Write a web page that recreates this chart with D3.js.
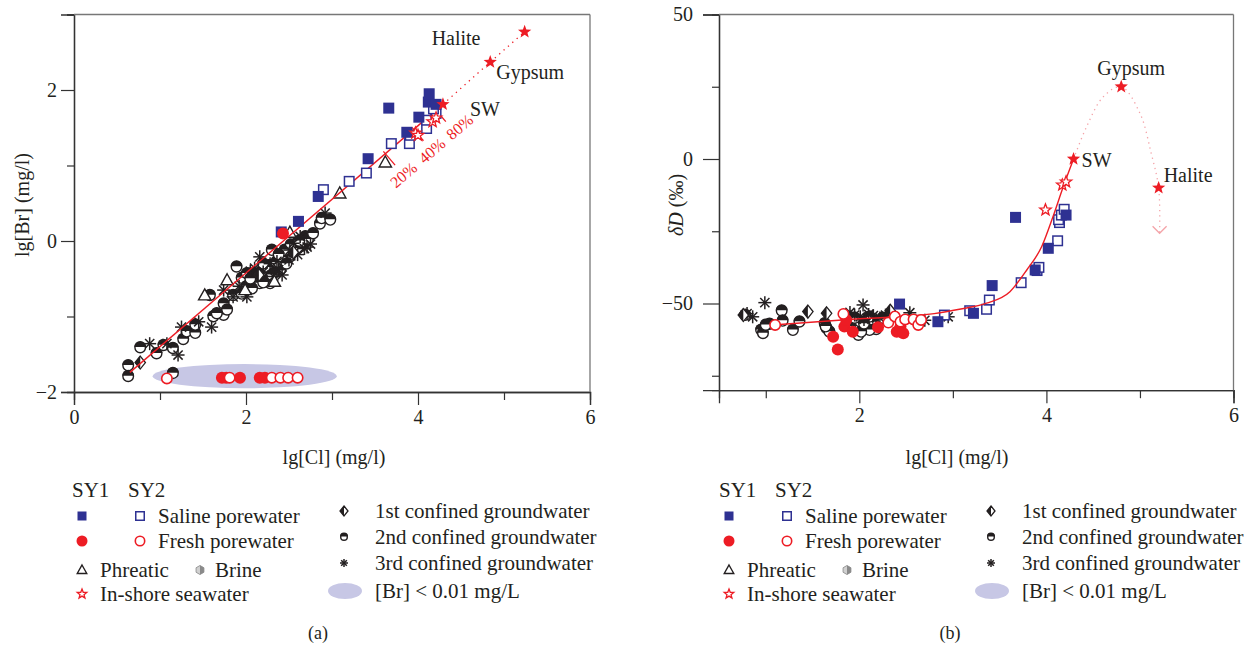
<!DOCTYPE html>
<html><head><meta charset="utf-8">
<script src="https://cdn.jsdelivr.net/npm/d3@7"></script>
<style>
body{margin:0;background:#fff}
svg{display:block}
text{font-family:"Liberation Serif","DejaVu Serif",serif;fill:#231f20}
</style></head>
<body><svg id="c" width="1256" height="645"></svg>
<script>
// ---------------- DATA: panel (a)  lg[Cl] vs lg[Br] ----------------
const xTicksA = [0, 2, 4, 6];
const xMinorA = [1, 3, 5];
const yTicksA = [-2, 0, 2];
const yMinorA = [-1, 1, 3];
const salineSY1A = [[2.41,0.12],[2.61,0.26],[2.84,0.59],[3.42,1.09],[3.66,1.76],[3.87,1.44],[4.01,1.64],[4.12,1.84],[4.13,1.95],[4.21,1.81]];
const salineSY2A = [[2.90,0.68],[3.20,0.79],[3.40,0.90],[3.69,1.29],[3.90,1.29],[3.91,1.40],[4.10,1.49],[4.10,1.60],[4.21,1.69],[4.18,1.75]];
const freshSY1A = [[2.43,0.10],[1.72,-1.81],[1.77,-1.81],[1.93,-1.81],[2.16,-1.81],[2.22,-1.81]];
const freshSY2A = [[1.08,-1.82],[1.81,-1.81],[2.30,-1.81],[2.40,-1.81],[2.49,-1.81],[2.60,-1.81]];
const phreaticA = [[1.52,-0.72],[1.78,-0.52],[1.99,-0.65],[2.33,-0.54],[2.51,0.11],[3.09,0.63],[3.62,1.04]];
const confined1A = [[0.77,-1.61],[2.15,-0.45],[2.55,-0.15]];
const confined2A = [[0.63,-1.65],[0.63,-1.79],[0.77,-1.41],[0.96,-1.49],[1.04,-1.38],[1.15,-1.42],[1.15,-1.75],[1.27,-1.30],[1.31,-1.20],[1.41,-1.22],[1.41,-1.11],[1.58,-0.72],[1.62,-1.00],[1.74,-0.83],[1.74,-0.98],[1.78,-0.91],[1.89,-0.34],[1.95,-0.49],[2.01,-0.43],[2.01,-0.60],[2.16,-0.56],[2.24,-0.52],[2.28,-0.56],[2.30,-0.12],[2.40,-0.38],[2.51,-0.21],[2.86,0.23],[2.88,0.30],[2.98,0.28],[2.69,0.06],[2.28,-0.32],[2.07,-0.63],[1.85,-0.72],[1.66,-0.96],[2.10,-0.45],[2.18,-0.40],[2.25,-0.35],[2.35,-0.28],[2.42,-0.22],[2.47,-0.30],[2.55,-0.15],[2.60,-0.10],[2.65,-0.02],[2.72,0.02],[2.45,-0.12],[2.33,-0.42],[2.20,-0.55],[1.95,-0.70],[2.05,-0.50],[2.38,-0.18],[2.52,-0.05],[2.62,0.00],[2.78,0.10],[2.20,-0.30],[2.30,-0.45]];
const confined3A = [[0.88,-1.36],[1.08,-1.36],[1.21,-1.51],[1.25,-1.14],[1.45,-1.07],[1.60,-1.14],[1.74,-0.65],[1.85,-0.74],[2.01,-0.74],[2.10,-0.36],[2.20,-0.41],[2.36,-0.27],[2.51,-0.12],[2.55,-0.03],[2.63,0.06],[2.71,-0.08],[2.92,0.37],[2.16,-0.21],[2.32,-0.47],[2.28,-0.30],[2.38,-0.38],[2.50,-0.25],[2.60,-0.18],[2.68,-0.10],[2.75,-0.04],[2.42,-0.45],[1.92,-0.60],[2.05,-0.40]];
const inshoreA = [[3.97,1.43],[4.00,1.40],[4.17,1.58],[4.21,1.63]];
const endNamesA = ["SW", "Gypsum", "Halite"];
const endXA = [4.29, 4.84, 5.24];
const endYA = [1.81, 2.37, 2.77];
const mixLineA = [[0.65,-1.74],[4.29,1.81]];
const mixTickXA = [3.62, 3.95, 4.21];
const mixTickLabelsA = ["20%", "40%", "80%"];
const lowBrA = {cx: 1.985, cy: -1.79, rx: 1.07, ry: 0.16};

// ---------------- DATA: panel (b)  lg[Cl] vs δD ----------------
const xTicksB = [2, 4, 6];
const xMinorB = [1, 3, 5];
const yTicksB = [-50, 0, 50];
const yMinorB = [-75, -25, 25];
const salineSY1B = [[2.43,-50.2],[2.84,-56.3],[3.22,-53.4],[3.42,-43.8],[3.67,-20.2],[3.88,-38.4],[4.02,-30.9],[4.21,-19.4]];
const salineSY2B = [[2.91,-54.0],[3.18,-52.5],[3.36,-52.0],[3.39,-48.8],[3.73,-42.8],[3.90,-38.6],[3.92,-37.5],[4.12,-28.3],[4.14,-22.0],[4.13,-21.0],[4.16,-19.4],[4.19,-17.4]];
const freshSY1B = [[1.72,-61.5],[1.77,-65.9],[1.84,-58.0],[1.86,-55.7],[1.93,-59.8],[2.20,-58.2],[2.40,-59.8],[2.44,-58.0],[2.47,-60.3]];
const freshSY2B = [[1.10,-57.4],[1.83,-53.6],[2.31,-56.6],[2.38,-54.5],[2.44,-56.3],[2.49,-55.5],[2.58,-55.5],[2.63,-57.4],[2.66,-55.7]];
const confined1B = [[0.76,-54.0],[1.45,-52.8],[1.65,-53.4],[2.33,-52.5]];
const confined2B = [[0.95,-59.2],[1.04,-57.1],[1.17,-52.5],[1.18,-56.0],[1.29,-59.2],[1.36,-56.3],[1.63,-56.9],[1.65,-58.6],[1.68,-59.8],[1.99,-60.9],[2.01,-56.3],[2.09,-55.7],[2.15,-56.6],[2.18,-58.9],[2.11,-59.2],[1.90,-58.0],[0.97,-60.3],[1.00,-57.4],[2.02,-59.8],[2.11,-54.6],[0.78,-54.0],[1.64,-58.0],[1.95,-55.0],[2.05,-57.0],[2.20,-56.5],[2.25,-55.0]];
const confined3B = [[0.86,-54.6],[0.99,-49.7],[2.04,-50.5],[1.90,-53.1],[2.01,-54.6],[2.10,-53.8],[2.54,-53.2],[2.70,-55.8],[2.95,-54.6],[0.80,-53.5],[1.95,-54.0],[2.05,-55.5],[2.15,-54.2],[2.22,-55.0],[2.28,-54.0]];
const inshoreB = [[3.99,-17.6],[4.17,-9.0],[4.21,-7.9]];
const endNamesB = ["SW", "Gypsum", "Halite"];
const endXB = [4.29, 4.80, 5.20];
const endYB = [0, 25, -10];
const mixCurveB = [[1.10,-57.4],[2.0,-55.3],[2.8,-53.5],[3.07,-52.0],[3.36,-49.9],[3.61,-45.9],[3.79,-38.4],[3.95,-30.3],[4.07,-20.0],[4.18,-9.6],[4.29,0]];
const evapPathB = [[4.29,0],[4.43,11.2],[4.61,21.6],[4.80,25],[5.00,15.8],[5.12,2.0],[5.20,-10],[5.21,-25.7]];

// ---------------- drawing ----------------
const BLUE = "#2e3192", RED = "#ed1c24", INK = "#231f20", PINK = "#f4a3a8", LAV = "#c7c7e5";
const svg = d3.select("#c");

function starPath(R){
  const r = R*0.42; let p = "";
  for(let i=0;i<10;i++){const a=-Math.PI/2+i*Math.PI/5, rr=i%2?r:R;
    p+=(i?"L":"M")+(rr*Math.cos(a)).toFixed(2)+","+(rr*Math.sin(a)).toFixed(2);}
  return p+"Z";
}
function sym(g,type,x,y,s){
  const h=s/2;
  if(type==="sqFill") g.append("rect").attr("x",x-h).attr("y",y-h).attr("width",s).attr("height",s).attr("fill",BLUE);
  else if(type==="sqOpen") g.append("rect").attr("x",x-h+0.75).attr("y",y-h+0.75).attr("width",s-1.5).attr("height",s-1.5).attr("fill","#fff").attr("stroke",BLUE).attr("stroke-width",1.5);
  else if(type==="circFill") g.append("circle").attr("cx",x).attr("cy",y).attr("r",h).attr("fill",RED);
  else if(type==="circOpen") g.append("circle").attr("cx",x).attr("cy",y).attr("r",h-0.8).attr("fill","#fff").attr("stroke",RED).attr("stroke-width",1.6);
  else if(type==="tri") g.append("path").attr("d",`M${x},${y-h}L${x+h*0.95},${y+h*0.7}L${x-h*0.95},${y+h*0.7}Z`).attr("fill","#fff").attr("stroke",INK).attr("stroke-width",1.4);
  else if(type==="diam"){
    g.append("path").attr("d",`M${x},${y-h}L${x+h*0.8},${y}L${x},${y+h}L${x-h*0.8},${y}Z`).attr("fill","#fff").attr("stroke",INK).attr("stroke-width",1.3);
    g.append("path").attr("d",`M${x},${y-h}L${x},${y+h}L${x-h*0.8},${y}Z`).attr("fill",INK);
  }
  else if(type==="half"){
    g.append("circle").attr("cx",x).attr("cy",y).attr("r",h-0.7).attr("fill","#fff").attr("stroke",INK).attr("stroke-width",1.4);
    g.append("path").attr("d",`M${x-h},${y-0.5}A${h},${h} 0 0 1 ${x+h},${y-0.5}Z`).attr("fill",INK);
  }
  else if(type==="ast"){
    [0,45,90,135].forEach(a=>{const r=a*Math.PI/180;
      g.append("line").attr("x1",x-h*Math.cos(r)).attr("y1",y-h*Math.sin(r)).attr("x2",x+h*Math.cos(r)).attr("y2",y+h*Math.sin(r)).attr("stroke",INK).attr("stroke-width",1.5);});
  }
  else if(type==="starOpen") g.append("path").attr("d",starPath(h)).attr("transform",`translate(${x},${y})`).attr("fill","#fff").attr("stroke",RED).attr("stroke-width",1.3);
  else if(type==="starFill") g.append("path").attr("d",starPath(h)).attr("transform",`translate(${x},${y})`).attr("fill",RED);
  else if(type==="brine"){
    g.append("path").attr("d",`M${x},${y-h}L${x+h*0.87},${y-h/2}L${x+h*0.87},${y+h/2}L${x},${y+h}L${x-h*0.87},${y+h/2}L${x-h*0.87},${y-h/2}Z`).attr("fill","#d0d0d0").attr("stroke","#999").attr("stroke-width",1);
    g.append("path").attr("d",`M${x},${y-h}L${x+h*0.87},${y-h/2}L${x+h*0.87},${y+h/2}L${x},${y+h}Z`).attr("fill","#8a8a8a");
  }
}
function scatter(g,data,x,y,type,s){ data.forEach(d=>sym(g,type,x(d[0]),y(d[1]),s)); }

function axes(g,x,y,xt,xm,yt,ym,left,bottom,top,right,majX,majY,yLabEnd,fmtY){
  const ax=g.append("g");
  ax.append("g").attr("transform",`translate(0,${bottom})`).call(d3.axisBottom(x).tickValues(xm).tickSize(8).tickFormat(""));
  ax.append("g").attr("transform",`translate(${left},0)`).call(d3.axisLeft(y).tickValues(ym).tickSize(7).tickFormat(""));
  ax.append("g").attr("transform",`translate(0,${bottom})`).call(d3.axisBottom(x).tickValues(xt).tickSize(majX).tickPadding(5).tickFormat(d3.format("d")));
  ax.append("g").attr("transform",`translate(${left},0)`).call(d3.axisLeft(y).tickValues(yt).tickSize(majY).tickPadding(yLabEnd).tickFormat(fmtY));
  ax.selectAll("path.domain").attr("stroke","#333").attr("stroke-width",1.3);
  ax.selectAll(".tick line").attr("stroke","#333").attr("stroke-width",1.2);
  ax.selectAll(".tick text").style("font-family",'"Liberation Serif",serif').style("font-size","20px").attr("fill",INK);
  g.append("line").attr("x1",left).attr("x2",right).attr("y1",top).attr("y2",top).attr("stroke","#777").attr("stroke-width",1.3);
  g.append("line").attr("x1",right).attr("x2",right).attr("y1",top).attr("y2",bottom).attr("stroke","#777").attr("stroke-width",1.3);
}

// ---------- Panel (a) ----------
const xA = d3.scaleLinear().domain([0,6]).range([74,590]);
const yA = d3.scaleLinear().domain([-2,3]).range([392,14.5]);
const gA = svg.append("g");
gA.append("ellipse").attr("cx",xA(lowBrA.cx)).attr("cy",yA(lowBrA.cy))
  .attr("rx",xA(lowBrA.cx+lowBrA.rx)-xA(lowBrA.cx)).attr("ry",yA(lowBrA.cy-lowBrA.ry)-yA(lowBrA.cy)).attr("fill",LAV);
scatter(gA,confined2A,xA,yA,"half",12);
scatter(gA,confined3A,xA,yA,"ast",13);
scatter(gA,phreaticA,xA,yA,"tri",13);
scatter(gA,confined1A,xA,yA,"diam",13);
const lineA = d3.line().x(d=>xA(d[0])).y(d=>yA(d[1]));
gA.append("path").attr("d",lineA(mixLineA)).attr("fill","none").attr("stroke",RED).attr("stroke-width",1.4);
gA.append("path").attr("d",lineA([[endXA[0],endYA[0]],[endXA[1],endYA[1]],[endXA[2],endYA[2]]]))
  .attr("fill","none").attr("stroke",RED).attr("stroke-width",1.3).attr("stroke-dasharray","1.3,4.5");
{
  const p0=[xA(mixLineA[0][0]),yA(mixLineA[0][1])], p1=[xA(mixLineA[1][0]),yA(mixLineA[1][1])];
  const dx=p1[0]-p0[0], dy=p1[1]-p0[1], L=Math.hypot(dx,dy), ux=dx/L, uy=dy/L;
  const nx=-uy, ny=ux;
  const ang=Math.atan2(dy,dx)*180/Math.PI;
  const along=[0,0,7];
  mixTickXA.forEach((mx,i)=>{
    const t=(mx-mixLineA[0][0])/(mixLineA[1][0]-mixLineA[0][0]);
    const yv=mixLineA[0][1]+t*(mixLineA[1][1]-mixLineA[0][1]);
    const px=xA(mx), py=yA(yv);
    gA.append("line").attr("x1",px-3*nx).attr("y1",py-3*ny).attr("x2",px+15*nx).attr("y2",py+15*ny).attr("stroke",RED).attr("stroke-width",1.3);
    gA.append("text").attr("transform",`translate(${px+28*nx+along[i]*ux},${py+28*ny+along[i]*uy}) rotate(${ang})`)
      .attr("text-anchor","middle").attr("dy","0.35em").style("font-size","16px").style("fill",RED).text(mixTickLabelsA[i]);
  });
}
scatter(gA,salineSY2A,xA,yA,"sqOpen",11);
scatter(gA,salineSY1A,xA,yA,"sqFill",11);
scatter(gA,freshSY1A,xA,yA,"circFill",12);
scatter(gA,freshSY2A,xA,yA,"circOpen",12);
scatter(gA,inshoreA,xA,yA,"starOpen",12);
endXA.forEach((v,i)=>sym(gA,"starFill",xA(v),yA(endYA[i]),14));
const endLabOffA = {SW:[27,12], Gypsum:[6,17], Halite:[-93,13]};
endNamesA.forEach((n,i)=>gA.append("text").attr("x",xA(endXA[i])+endLabOffA[n][0]).attr("y",yA(endYA[i])+endLabOffA[n][1]).style("font-size","20px").text(n));
axes(gA,xA,yA,xTicksA,xMinorA,yTicksA,yMinorA,74,392,14.5,590,13,13,4,d3.format("d"));
gA.append("text").attr("x",334).attr("y",464).attr("text-anchor","middle").style("font-size","20px").text("lg[Cl] (mg/l)");
gA.append("text").attr("transform","translate(29,205) rotate(-90)").attr("text-anchor","middle").style("font-size","20px").text("lg[Br] (mg/l)");

// ---------- Panel (b) ----------
const xB = d3.scaleLinear().domain([0.5,6]).range([719,1233.5]);
const yB = d3.scaleLinear().domain([-80,50]).range([390.2,14.5]);
const gB = svg.append("g");
scatter(gB,confined2B,xB,yB,"half",12);
scatter(gB,confined3B,xB,yB,"ast",13);
scatter(gB,confined1B,xB,yB,"diam",13);
scatter(gB,salineSY2B,xB,yB,"sqOpen",11);
scatter(gB,salineSY1B,xB,yB,"sqFill",11);
const curveB = d3.line().x(d=>xB(d[0])).y(d=>yB(d[1])).curve(d3.curveMonotoneX);
gB.append("path").attr("d",curveB(mixCurveB)).attr("fill","none").attr("stroke",RED).attr("stroke-width",1.4);
const evapLine = d3.line().x(d=>xB(d[0])).y(d=>yB(d[1])).curve(d3.curveCatmullRom.alpha(0.5));
gB.append("path").attr("d",evapLine(evapPathB)).attr("fill","none").attr("stroke",PINK).attr("stroke-width",1.3).attr("stroke-dasharray","1.3,4");
{
  const last=evapPathB[evapPathB.length-1], ax=xB(last[0]), ay=yB(last[1]);
  gB.append("path").attr("d",`M${ax-7},${ay-7}L${ax},${ay}L${ax+7},${ay-7}`).attr("fill","none").attr("stroke",PINK).attr("stroke-width",1.3);
}
scatter(gB,freshSY1B,xB,yB,"circFill",12);
scatter(gB,freshSY2B,xB,yB,"circOpen",12);
scatter(gB,inshoreB,xB,yB,"starOpen",12);
endXB.forEach((v,i)=>sym(gB,"starFill",xB(v),yB(endYB[i]),14));
const endLabOffB = {SW:[8,8], Gypsum:[-24,-12], Halite:[5,-6]};
endNamesB.forEach((n,i)=>gB.append("text").attr("x",xB(endXB[i])+endLabOffB[n][0]).attr("y",yB(endYB[i])+endLabOffB[n][1]).style("font-size","20px").text(n));
axes(gB,xB,yB,xTicksB,xMinorB,yTicksB,yMinorB,719,390.2,14.5,1233.5,13,16,10,d3.format("d"));
gB.append("text").attr("x",957).attr("y",464).attr("text-anchor","middle").style("font-size","20px").text("lg[Cl] (mg/l)");
{
  const t=gB.append("text").attr("transform","translate(683,205) rotate(-90)").attr("text-anchor","middle").style("font-size","20px");
  t.append("tspan").style("font-style","italic").text("δD");
  t.append("tspan").text(" (‰)");
}

// ---------- Legends ----------
function legend(ox){
  const g=svg.append("g");
  const T=(x,y,s)=>g.append("text").attr("x",x+ox).attr("y",y).style("font-size","21px").text(s);
  T(72,497,"SY1"); T(128,497,"SY2");
  sym(g,"sqFill",82+ox,516,9); sym(g,"sqOpen",140+ox,516,10); T(158,523,"Saline porewater");
  sym(g,"circFill",82+ox,541,11); sym(g,"circOpen",140+ox,541,11); T(158,548,"Fresh porewater");
  sym(g,"tri",82+ox,570,10); T(100,577,"Phreatic"); sym(g,"brine",200+ox,570,9); T(215,577,"Brine");
  sym(g,"starOpen",82+ox,594,10); T(100,601,"In-shore seawater");
  sym(g,"diam",344+ox,511,10); T(375,518,"1st confined groundwater");
  sym(g,"half",344+ox,537,8); T(375,544,"2nd confined groundwater");
  sym(g,"ast",344+ox,563,8); T(375,570,"3rd confined groundwater");
  g.append("ellipse").attr("cx",345+ox).attr("cy",591).attr("rx",17).attr("ry",8).attr("fill",LAV);
  T(375,598,"[Br] < 0.01 mg/L");
}
legend(0); legend(647);
svg.append("text").attr("x",318).attr("y",639).attr("text-anchor","middle").style("font-size","18px").text("(a)");
svg.append("text").attr("x",950).attr("y",639).attr("text-anchor","middle").style("font-size","18px").text("(b)");
</script></body></html>
